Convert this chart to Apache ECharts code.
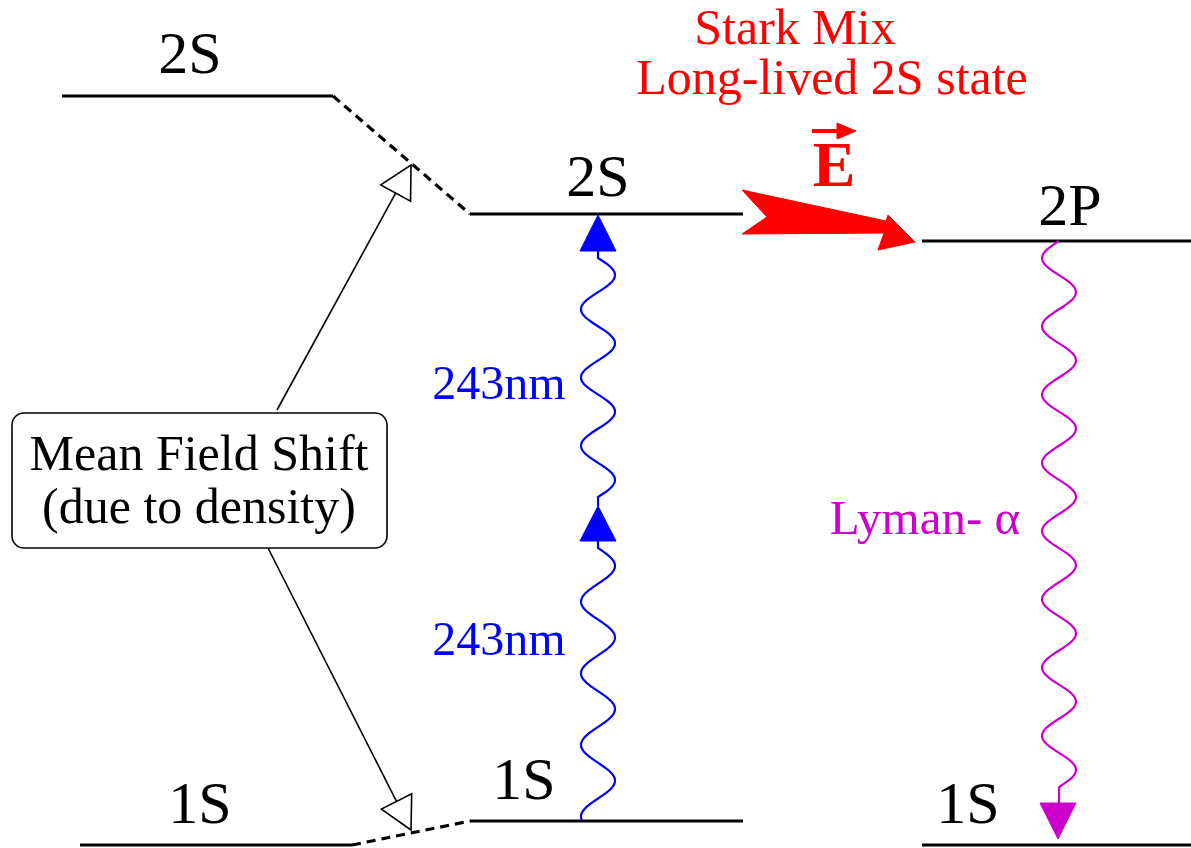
<!DOCTYPE html>
<html><head><meta charset="utf-8">
<script src="https://cdn.jsdelivr.net/npm/echarts@6/dist/echarts.min.js"></script>
<style>html,body{margin:0;padding:0;background:#fff}#c{width:1191px;height:848px}</style>
</head><body><div id="c"></div>
<script>
// ---- diagram data (in the diagram's own coordinate space, y grows downward) ----
// energy levels: [x1, y1, x2, y2]
const levels = [
  [62, 96, 333, 96], [470, 214, 743, 214], [922, 241, 1191, 241],
  [80, 845, 352, 845], [470, 821, 743, 821], [922, 845, 1191, 845]
];
// dashed shift connectors: [x1, y1, x2, y2]
const shifts = [[333, 96, 470, 214], [352, 845, 470, 821]];
// open-head arrows from the box: [x0, y0, tipX, tipY]
const shiftArrows = [[277, 410, 411, 165], [268, 548, 411, 830]];
// photons: [x, yLeadStart, yWaveStart, yWaveEnd, yLeadEnd, halfWaves, side]
const bluePhotons = [[598, 251, 258, 497, 506, 7, 1], [598, 541, 548, 820, 820, 7.6, 1]];
const magentaPhotons = [[1059, 241, 241, 787, 803, 16, -1]];
// filled arrow heads: [tipX, tipY, baseY]
const blueHeads = [[598, 215, 251], [598, 506, 541]];
const magentaHeads = [[1058, 839, 803]];
// electric-field arrow outline
const eArrow = [[742, 190], [886, 221], [888, 215], [915, 242], [878, 250], [884, 233], [742, 234], [767, 217]];
// vector mark above E: [x1, y, x2]
const eVector = [[812, 131, 856]];
// texts: [x, y, text]
const levelLabels = [[190, 57, '2S'], [598, 180, '2S'], [1070, 209, '2P'], [200, 807, '1S'], [524, 783, '1S'], [968, 807, '1S']];
const redLabels = [[795, 31, 'Stark Mix'], [832, 81, 'Long-lived 2S state']];
const eLabel = [[834, 169, 'E']];
const blueLabels = [[499, 386, '243nm'], [499, 642, '243nm']];
const magentaLabels = [[925, 521, 'Lyman- α']];
const boxLabels = [[199, 457, 'Mean Field Shift'], [199, 510, '(due to density)']];
const box = [[12, 413, 387, 548]];

const SERIF = '"Liberation Serif", "DejaVu Serif", serif';
const BLUE = '#0000ff', MAG = '#cc00cc', RED = '#ff0000';

function base(data, renderItem, z) {
  return { type: 'custom', coordinateSystem: 'cartesian2d', data: data.map((d, i) => [i]), silent: true, z: z || 2, renderItem };
}
function segs(arr, style) {
  return base(arr, (p, api) => {
    const d = arr[p.dataIndex];
    const a = api.coord([d[0], d[1]]), b = api.coord([d[2], d[3]]);
    return { type: 'line', shape: { x1: a[0], y1: a[1], x2: b[0], y2: b[1] }, style };
  });
}
function texts(arr, style, z) {
  return base(arr, (p, api) => {
    const d = arr[p.dataIndex];
    const a = api.coord([d[0], d[1]]);
    return { type: 'text', x: a[0], y: a[1], style: Object.assign({ text: d[2], align: 'center', verticalAlign: 'middle', fontFamily: SERIF }, style) };
  }, z);
}
function photons(arr, color) {
  return base(arr, (p, api) => {
    const d = arr[p.dataIndex];
    const pts = [];
    const A = api.size([17, 0])[0];
    pts.push(api.coord([d[0], d[1]]));
    const steps = 240;
    for (let i = 0; i <= steps; i++) {
      const t = i / steps;
      const y = d[2] + (d[3] - d[2]) * t;
      const c = api.coord([d[0], y]);
      pts.push([c[0] + d[6] * A * Math.sin(Math.PI * d[5] * t), c[1]]);
    }
    if (d[4] !== d[3]) pts.push(api.coord([d[0], d[4]]));
    return { type: 'polyline', shape: { points: pts }, style: { fill: 'none', stroke: color, lineWidth: 2.2 } };
  });
}
function heads(arr, color) {
  return base(arr, (p, api) => {
    const d = arr[p.dataIndex];
    const t = api.coord([d[0], d[1]]);
    const l = api.coord([d[0] - 18, d[2]]), r = api.coord([d[0] + 18, d[2]]);
    return { type: 'polygon', shape: { points: [t, l, r] }, style: { fill: color, stroke: color, lineWidth: 1 } };
  }, 3);
}

const chart = echarts.init(document.getElementById('c'), null, { renderer: 'canvas' });
const option = {
  animation: false,
  backgroundColor: '#fff',
  grid: { left: 0, right: 0, top: 0, bottom: 0 },
  xAxis: { type: 'value', min: 0, max: 1191, show: false },
  yAxis: { type: 'value', min: 0, max: 848, inverse: true, show: false },
  series: [
    segs(levels, { stroke: '#000', lineWidth: 3.2 }),
    segs(shifts, { stroke: '#000', lineWidth: 3.2, lineDash: [9, 6] }),
    base(shiftArrows, (p, api) => {
      const d = shiftArrows[p.dataIndex];
      const s = api.coord([d[0], d[1]]), t = api.coord([d[2], d[3]]);
      const dx = t[0] - s[0], dy = t[1] - s[1], L = Math.hypot(dx, dy);
      const ux = dx / L, uy = dy / L, H = 32, W = 17;
      const bx = t[0] - ux * H, by = t[1] - uy * H;
      return { type: 'group', children: [
        { type: 'line', shape: { x1: s[0], y1: s[1], x2: bx, y2: by }, style: { stroke: '#000', lineWidth: 1.6 } },
        { type: 'polygon', shape: { points: [t, [bx - uy * W, by + ux * W], [bx + uy * W, by - ux * W]] }, style: { fill: '#fff', stroke: '#000', lineWidth: 1.6 } }
      ] };
    }, 3),
    base(box, (p, api) => {
      const d = box[p.dataIndex];
      const a = api.coord([d[0], d[1]]), b = api.coord([d[2], d[3]]);
      return { type: 'rect', shape: { x: a[0], y: a[1], width: b[0] - a[0], height: b[1] - a[1], r: 12 }, style: { fill: '#fff', stroke: '#000', lineWidth: 1.6 } };
    }, 4),
    photons(bluePhotons, BLUE),
    photons(magentaPhotons, MAG),
    heads(blueHeads, BLUE),
    heads(magentaHeads, MAG),
    base([0], (p, api) => {
      return { type: 'polygon', shape: { points: eArrow.map(q => api.coord(q)) }, style: { fill: RED, stroke: RED, lineWidth: 1 } };
    }, 3),
    base(eVector, (p, api) => {
      const d = eVector[p.dataIndex];
      const a = api.coord([d[0], d[1]]), b = api.coord([d[2], d[1]]);
      const hb = api.coord([d[2] - 19, d[1]]);
      return { type: 'group', children: [
        { type: 'line', shape: { x1: a[0], y1: a[1], x2: hb[0] + 2, y2: hb[1] }, style: { stroke: RED, lineWidth: 4 } },
        { type: 'polygon', shape: { points: [b, [hb[0], hb[1] - 8], [hb[0], hb[1] + 8]] }, style: { fill: RED, stroke: RED, lineWidth: 1 } }
      ] };
    }, 3),
    texts(levelLabels, { fill: '#000', fontSize: 60 }, 5),
    texts(redLabels, { fill: RED, fontSize: 50 }, 5),
    texts(eLabel, { fill: RED, fontSize: 64, fontWeight: 'bold' }, 5),
    texts(blueLabels, { fill: BLUE, fontSize: 48 }, 5),
    texts(magentaLabels, { fill: MAG, fontSize: 49 }, 5),
    texts(boxLabels, { fill: '#000', fontSize: 50 }, 6)
  ]
};
chart.setOption(option);
</script>
</body></html>
